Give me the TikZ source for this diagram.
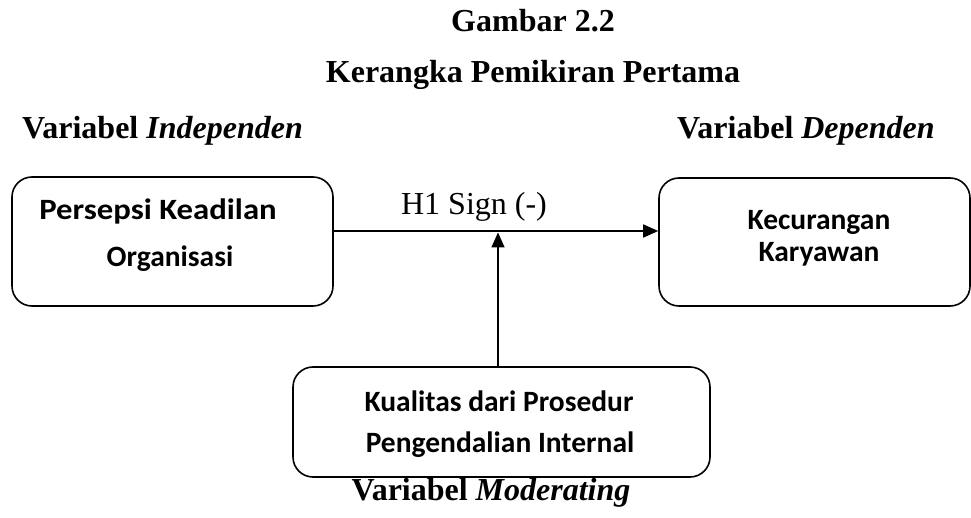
\documentclass[tikz,border=0pt]{standalone}
\usepackage{fontspec}
\setmainfont{Liberation Serif}
\newfontfamily\boxfont{Carlito}
\usetikzlibrary{arrows.meta}
\tikzset{
  box/.style={draw, line width=1.6pt, rounded corners=20pt, rectangle, inner sep=0pt},
  title/.style={inner sep=0pt, anchor=base, font=\fontsize{32}{38}\selectfont\bfseries},
  varlab/.style={inner sep=0pt, font=\fontsize{32}{38}\selectfont\bfseries},
  boxtext/.style={inner sep=0pt, anchor=base, font=\fontsize{29.5}{36}\selectfont\boxfont\bfseries},
  conn/.style={line width=1.6pt, -{Triangle[length=15pt,width=13pt]}},
  rel/.style={inner sep=0pt, anchor=base, font=\fontsize{32}{38}\selectfont}
}
\begin{document}
\begin{tikzpicture}[x=1pt,y=-1pt]
\useasboundingbox (0,0) rectangle (971,518);
% titles
\node[title] (g) at (533,32) {Gambar 2.2};
\node[title] (k) at (533,83) {Kerangka Pemikiran Pertama};
% variable labels
\node[varlab, anchor=base west] (vi) at (22,139) {Variabel \textit{Independen}};
\node[varlab, anchor=base west] (vd) at (677,139) {Variabel \textit{Dependen}};
\node[varlab, anchor=base] (vm) at (491,500) {Variabel \textit{Moderating}};
% boxes
\node[box, minimum width=321pt, minimum height=129pt] (b1) at (172.5,241.5) {};
\node[box, minimum width=311pt, minimum height=128pt] (b2) at (814.5,242) {};
\node[box, minimum width=417pt, minimum height=110pt] (b3) at (501.5,422) {};
% box texts
\node[boxtext, transform shape, xscale=1.11] (t1a) at (158,220) {Persepsi Keadilan};
\node[boxtext] (t1b) at (170,267) {Organisasi};
\node[boxtext] (t2a) at (819,230) {Kecurangan};
\node[boxtext] (t2b) at (819,262) {Karyawan};
\node[boxtext] (t3a) at (499,411) {Kualitas dari Prosedur};
\node[boxtext] (t3b) at (500,452) {Pengendalian Internal};
% connectors
\coordinate (hl) at (0,231);
\coordinate (tip) at (498,232.5);
\draw[conn] (b1.east |- hl) -- (b2.west |- hl);
\draw[conn] (b3.north -| tip) -- (tip);
\node[rel] (h1) at (474,215) {H1 Sign (-)};
\end{tikzpicture}
\end{document}
